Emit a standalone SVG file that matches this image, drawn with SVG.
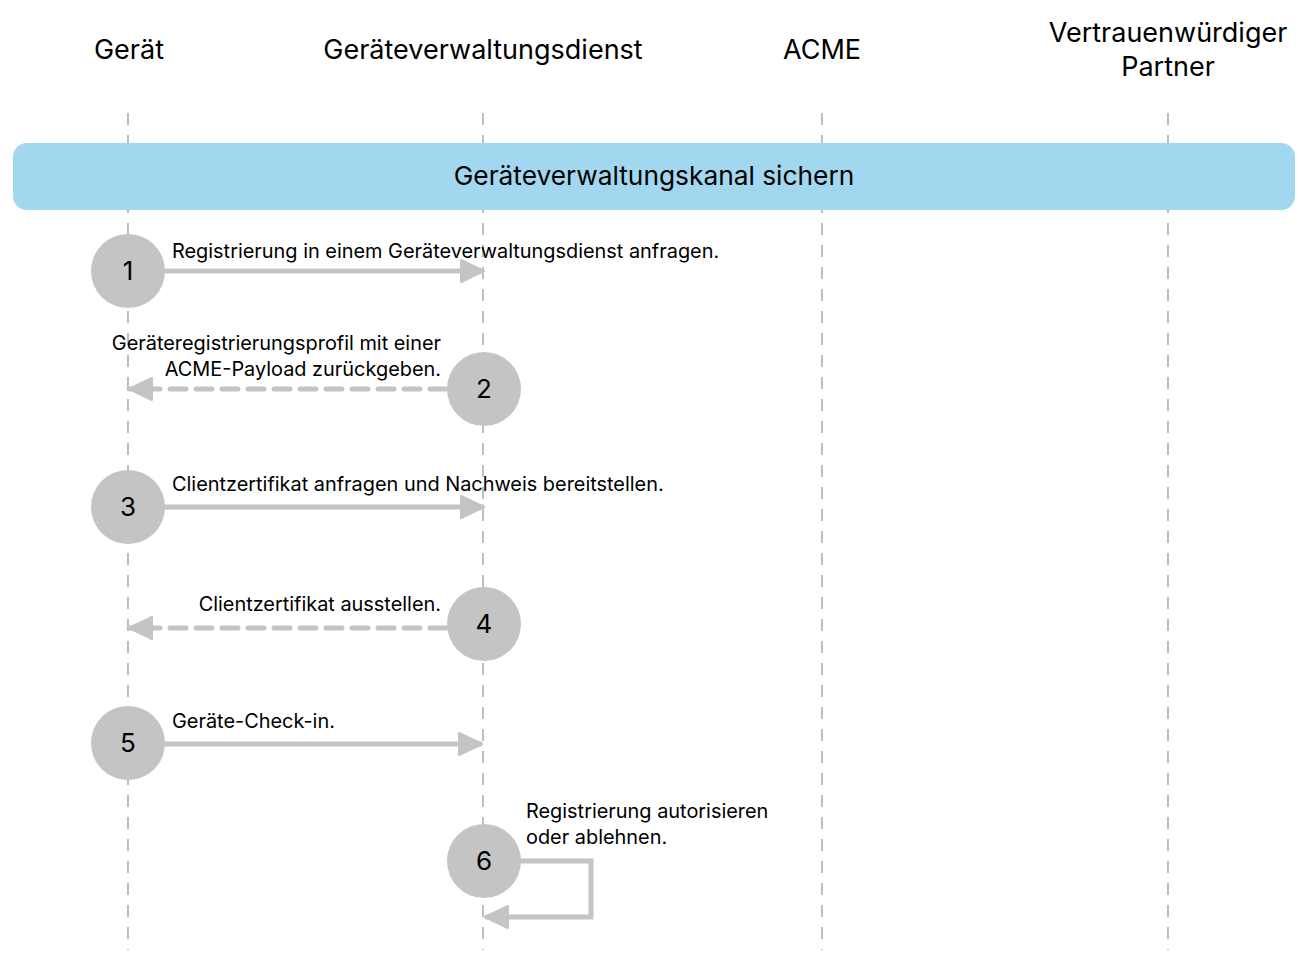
<svg xmlns="http://www.w3.org/2000/svg" width="1303" height="963" viewBox="0 0 1303 963">
<style>
text{font-family:Inter,"Liberation Sans",sans-serif;fill:#000}
.h{font-size:27px;text-anchor:middle}
.b{font-size:26.3px;text-anchor:middle}
.l{font-size:19.9px}
.r{text-anchor:end}
.n{font-size:26px;text-anchor:middle}
.life{stroke:#8a8a8a;stroke-width:1.1;stroke-dasharray:12 10;fill:none}
.arr{stroke:#c4c4c4;stroke-width:5;fill:none}
.dash{stroke-dasharray:16 10;stroke-linecap:round}
.c{fill:#c4c4c4}
</style>
<defs>
<marker id="ah" viewBox="0 0 10 10" refX="10" refY="5" markerWidth="5.2" markerHeight="4.8" markerUnits="strokeWidth" orient="auto">
<path d="M0.5,0.5 L10,5 L0.5,9.5 Z" fill="#c4c4c4" stroke="#c4c4c4" stroke-linejoin="round"/>
</marker>
</defs>
<rect width="1303" height="963" fill="#fff"/>
<g id="lifelines">
<line class="life" x1="128" y1="113" x2="128" y2="950"/>
<line class="life" x1="483" y1="113" x2="483" y2="950"/>
<line class="life" x1="822" y1="113" x2="822" y2="950"/>
<line class="life" x1="1168" y1="113" x2="1168" y2="950"/>
</g>
<g id="headers">
<text class="h" x="129" y="59">Gerät</text>
<text class="h" x="483" y="59">Geräteverwaltungsdienst</text>
<text class="h" x="822" y="59">ACME</text>
<text class="h" x="1168" y="42">Vertrauenwürdiger</text>
<text class="h" x="1168" y="76">Partner</text>
</g>
<g id="band">
<rect x="13" y="143" width="1282" height="67" rx="14" fill="#a2d8ef"/>
<text class="b" x="654" y="185">Geräteverwaltungskanal sichern</text>
</g>
<g id="connectors">
<line class="arr" x1="160" y1="271" x2="484" y2="271" marker-end="url(#ah)"/>
<line class="arr dash" x1="446" y1="389" x2="129" y2="389" marker-end="url(#ah)"/>
<line class="arr" x1="160" y1="507" x2="484" y2="507" marker-end="url(#ah)"/>
<line class="arr dash" x1="446" y1="628" x2="129" y2="628" marker-end="url(#ah)"/>
<line class="arr" x1="160" y1="744" x2="482" y2="744" marker-end="url(#ah)"/>
<polyline class="arr" points="515,861 591,861 591,917 485,917" marker-end="url(#ah)"/>
</g>
<g id="step1"><circle class="c" cx="128" cy="271" r="37"/><text class="n" x="128" y="280">1</text>
<text class="l" x="172" y="258">Registrierung in einem Geräteverwaltungsdienst anfragen.</text></g>
<g id="step2"><circle class="c" cx="484" cy="389" r="37"/><text class="n" x="484" y="398">2</text>
<text class="l r" x="441" y="350">Geräteregistrierungsprofil mit einer</text>
<text class="l r" x="441" y="376">ACME-Payload zurückgeben.</text></g>
<g id="step3"><circle class="c" cx="128" cy="507" r="37"/><text class="n" x="128" y="516">3</text>
<text class="l" x="172" y="491">Clientzertifikat anfragen und Nachweis bereitstellen.</text></g>
<g id="step4"><circle class="c" cx="484" cy="624" r="37"/><text class="n" x="484" y="633">4</text>
<text class="l r" x="441" y="611">Clientzertifikat ausstellen.</text></g>
<g id="step5"><circle class="c" cx="128" cy="743" r="37"/><text class="n" x="128" y="752">5</text>
<text class="l" x="172" y="728">Geräte-Check-in.</text></g>
<g id="step6"><circle class="c" cx="484" cy="861" r="37"/><text class="n" x="484" y="870">6</text>
<text class="l" x="526" y="818">Registrierung autorisieren</text>
<text class="l" x="526" y="844">oder ablehnen.</text></g>
</svg>
